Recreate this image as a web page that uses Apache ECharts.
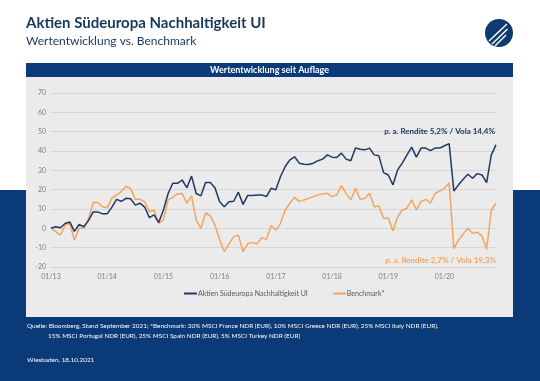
<!DOCTYPE html>
<html><head><meta charset="utf-8">
<script src="https://cdn.jsdelivr.net/npm/echarts@6/dist/echarts.min.js"></script>
<style>html,body{margin:0;padding:0;background:#fff}#c{width:540px;height:381px}</style>
</head><body><div id="c"></div>
<script>
// Monthly categories (labels shown every 12th month)
var categories = [];
for (var y = 13; y <= 20; y++) { for (var m = 1; m <= 12; m++) { categories.push((m < 10 ? '0' + m : '' + m) + '/' + y); } }
var yTicks = [-20, -10, 0, 10, 20, 30, 40, 50, 60, 70];
var fundName = 'Aktien Südeuropa Nachhaltigkeit UI';
var benchName = 'Benchmark*';
var fund = [0, 0.8, 0.3, 2.5, 3.3, -1.6, 2, 0.8, 4, 8.5, 8.5, 7.5, 7.5, 11, 15, 14, 15.5, 15.3, 12, 13, 11, 5.5, 7, 3,
  9.5, 18, 23.3, 23.3, 25, 21, 27, 18, 16.8, 23.7, 23.7, 21, 13.8, 11.2, 13.8, 14, 18.7, 12.4, 17, 17, 17.3, 17.3, 16.4, 20.7,
  19.9, 26.8, 32, 35.4, 37, 33.7, 33.2, 33, 33.7, 35, 35.8, 38, 36.8, 36.6, 38.9, 35.8, 35, 41.5, 40.9, 40.6, 41.5, 38, 37.5,
  28.8, 27.6, 22.5, 30.2, 33.7, 38, 42, 36.8, 41.5, 41.5, 40.2, 41.5, 41.5, 42.7, 43.8, 19.3, 22.5, 25.4, 28, 25.9, 28.3,
  27.6, 23.7, 38, 43.2];
var bench = [0, -1.7, -3.5, 1.7, 2.6, -6, 0, 0, 5, 13.3, 13.3, 11.2, 10.7, 15.5, 17.3, 19, 21.6, 20.7, 15, 15, 13.8, 8.6, 9.5, 2.6,
  4.3, 14.7, 16, 17.8, 18, 13, 16.8, 4.3, 0, 8, 6.4, 1.7, -6, -12, -8, -4.3, -3.5, -12, -8, -7.4, -8, -4.8, -5.7, 1.5,
  -0.9, 2.6, 9.5, 13, 16, 13.8, 14.7, 15.5, 16.4, 17.3, 17.8, 18.1, 16.4, 17.3, 22.1, 18.1, 14.7, 20.7, 15, 15.5, 18.1, 11.2, 11.6,
  5.2, 5.2, -1.2, 6, 9.5, 10.4, 14.7, 9.5, 13.8, 15, 13, 18.1, 19.3, 20.7, 23.5, -10.5, -6, -3, 0, -2.6, -2,
  -4, -10.8, 9.5, 13];
var fundLabel = 'p. a. Rendite 5,2% / Vola 14,4%';
var benchLabel = 'p. a. Rendite 2,7% / Vola 19,3%';

var NAVY = '#0a3a78', BLUE = '#1f3864', ORANGE = '#f4a460';
var FONT = 'Lato, "Open Sans", sans-serif';
var chart = echarts.init(document.getElementById('c'), null, {renderer: 'canvas'});
chart.setOption({
  animation: false,
  textStyle: {fontFamily: FONT},
  graphic: [
    {type: 'rect', z: -10, shape: {x: 0, y: 190, width: 540, height: 191}, style: {fill: NAVY}},
    {type: 'rect', z: -9, shape: {x: 26, y: 64, width: 487, height: 253}, style: {fill: '#ebebeb'}},
    {type: 'rect', z: -8, shape: {x: 26, y: 63, width: 487, height: 14}, style: {fill: NAVY}},
    {type: 'text', z: 5, x: 269.5, y: 70.5, style: {text: 'Wertentwicklung seit Auflage', fill: '#fff', font: 'bold 9px ' + FONT, textAlign: 'center', textVerticalAlign: 'middle'}},
    {type: 'text', z: 5, x: 26, y: 23, style: {text: 'Aktien Südeuropa Nachhal\u200Ctigkeit UI', fill: '#17375e', font: 'bold 15px ' + FONT, textAlign: 'left', textVerticalAlign: 'middle'}},
    {type: 'text', z: 5, x: 26, y: 41, style: {text: 'Wertentwicklung vs. Benchmark', fill: '#17375e', font: '12px ' + FONT, textAlign: 'left', textVerticalAlign: 'middle'}},
    {type: 'circle', z: 5, shape: {cx: 499, cy: 33, r: 14}, style: {fill: '#0d3b70'}},
    {type: 'line', z: 6, shape: {x1: 489, y1: 41, x2: 507, y2: 24}, style: {stroke: '#fff', lineWidth: 1.4}},
    {type: 'line', z: 6, shape: {x1: 492, y1: 44, x2: 507.5, y2: 29}, style: {stroke: '#fff', lineWidth: 1.4}},
    {type: 'line', z: 6, shape: {x1: 495, y1: 46, x2: 506, y2: 35}, style: {stroke: '#fff', lineWidth: 1.4}},
    {type: 'text', z: 5, x: 495, y: 131, style: {text: fundLabel, fill: BLUE, font: 'bold 8px ' + FONT, textAlign: 'right', textVerticalAlign: 'middle'}},
    {type: 'text', z: 5, x: 496, y: 260, style: {text: benchLabel, fill: ORANGE, font: 'bold 8px ' + FONT, textAlign: 'right', textVerticalAlign: 'middle'}},
    {type: 'text', z: 5, x: 27, y: 326, style: {text: 'Quelle: Bloomberg, Stand September 2021; *Benchmark: 20% MSCI France NDR (EUR), 10% MSCI Greece NDR (EUR), 25% MSCI Italy NDR (EUR),', fill: '#fff', font: '6.4px ' + FONT, textAlign: 'left', textVerticalAlign: 'middle'}},
    {type: 'text', z: 5, x: 48, y: 335.5, style: {text: '15% MSCI Portugal NDR (EUR), 25% MSCI Spain NDR (EUR), 5% MSCI Turkey NDR (EUR)', fill: '#fff', font: '6.4px ' + FONT, textAlign: 'left', textVerticalAlign: 'middle'}},
    {type: 'text', z: 5, x: 27, y: 360, style: {text: 'Wiesbaden, 18.10.2021', fill: '#fff', font: '6.4px ' + FONT, textAlign: 'left', textVerticalAlign: 'middle'}}
  ],
  legend: {
    data: [fundName, benchName], left: 179, top: 285, itemWidth: 13, itemHeight: 2, itemGap: 25, icon: 'rect',
    textStyle: {fontSize: 7, color: '#595959', padding: [0, 0, 0, -4]}
  },
  grid: {left: 51, right: 44, top: 93, bottom: 114, containLabel: false},
  xAxis: {
    type: 'category', data: categories, boundaryGap: false,
    axisLine: {show: false}, axisTick: {show: false},
    axisLabel: {interval: 11, color: '#7f7f7f', fontSize: 7, margin: 6}
  },
  yAxis: {
    type: 'value', min: -20, max: 70, interval: 10,
    axisLine: {show: false}, axisTick: {show: false},
    axisLabel: {color: '#7f7f7f', fontSize: 7, margin: 5},
    splitLine: {lineStyle: {color: '#d6d6d6', width: 1}}
  },
  series: [
    {name: benchName, type: 'line', data: bench, showSymbol: false, symbol: 'none', lineStyle: {color: ORANGE, width: 1.5}, itemStyle: {color: ORANGE}, z: 2},
    {name: fundName, type: 'line', data: fund, showSymbol: false, symbol: 'none', lineStyle: {color: BLUE, width: 1.5}, itemStyle: {color: BLUE}, z: 3}
  ]
});
</script></body></html>
